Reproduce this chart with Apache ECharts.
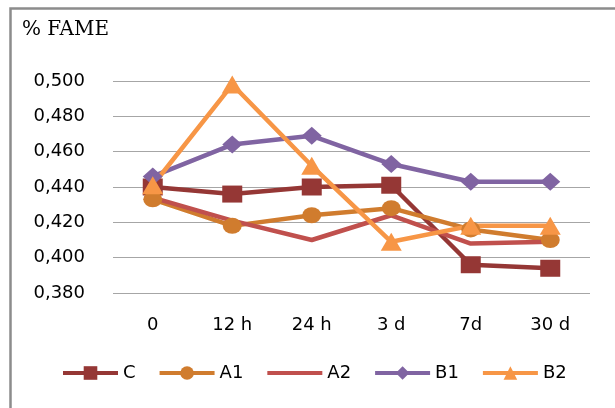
<!DOCTYPE html>
<html>
<head>
<meta charset="utf-8">
<script src="https://cdn.jsdelivr.net/npm/echarts@6/dist/echarts.min.js"></script>
<style>
  html, body { margin: 0; padding: 0; background: #fff; }
  #chart { width: 615px; height: 408px; }
</style>
</head>
<body>
<div id="chart"></div>
<script>
// Sampling times and % FAME per treatment
const categories = ['0', '12 h', '24 h', '3 d', '7d', '30 d'];
const seriesC  = [0.440, 0.436, 0.440, 0.441, 0.396, 0.394];
const seriesA1 = [0.433, 0.418, 0.424, 0.428, 0.416, 0.410];
const seriesA2 = [0.434, 0.421, 0.410, 0.424, 0.408, 0.409];
const seriesB1 = [0.446, 0.464, 0.469, 0.453, 0.443, 0.443];
const seriesB2 = [0.441, 0.498, 0.452, 0.409, 0.418, 0.418];
const yTicks = { min: 0.38, max: 0.5, step: 0.02 };

const font = '"DejaVu Sans", sans-serif';

function line(name, data, color, symbol, size) {
  return {
    name, type: 'line', data,
    symbol, symbolSize: size,
    showSymbol: symbol !== 'none',
    lineStyle: { color, width: 4.5 },
    itemStyle: { color },
    z: 2
  };
}

const chart = echarts.init(document.getElementById('chart'), null, { renderer: 'canvas' });
chart.setOption({
  animation: false,
  backgroundColor: '#fff',
  graphic: [
    {
      type: 'rect', left: 8, top: 6,
      shape: { width: 640, height: 440 },
      style: { fill: 'none', stroke: '#8c8c8c', lineWidth: 2.5 },
      silent: true, z: -1
    },
    {
      type: 'text', left: 22, top: 20,
      style: { text: '% FAME', font: '20px "DejaVu Serif", "Liberation Serif", serif', fill: '#000' }
    }
  ],
  grid: { left: 113, right: 25, top: 81, bottom: 115 },
  xAxis: {
    type: 'category',
    data: categories,
    boundaryGap: true,
    axisLine: { show: false },
    axisTick: { show: false },
    axisLabel: { color: '#000', fontSize: 18, fontFamily: font, margin: 23 }
  },
  yAxis: {
    type: 'value',
    min: yTicks.min, max: yTicks.max, interval: yTicks.step,
    axisLine: { show: false },
    axisTick: { show: false },
    splitLine: { lineStyle: { color: '#a6a6a6', width: 1.2 } },
    axisLabel: {
      color: '#000', fontSize: 18, fontFamily: font, margin: 28,
      formatter: v => v.toFixed(3).replace('.', ',')
    }
  },
  legend: {
    bottom: 21, left: 56,
    itemWidth: 55, itemHeight: 17, itemGap: 22,
    lineStyle: { width: 4 },
    textStyle: { color: '#000', fontSize: 18, fontFamily: font },
    data: [
      'C', 'A1',
      { name: 'A2', itemStyle: { opacity: 0 } },
      'B1', 'B2'
    ]
  },
  series: [
    line('C',  seriesC,  '#953735', 'rect', [20, 17]),
    line('A1', seriesA1, '#d07c2e', 'circle', [19, 16]),
    line('A2', seriesA2, '#c0504d', 'none', 0),
    line('B1', seriesB1, '#8064a2', 'diamond', [20, 18]),
    line('B2', seriesB2, '#f79646', 'triangle', [21, 18])
  ]
});
</script>
</body>
</html>
